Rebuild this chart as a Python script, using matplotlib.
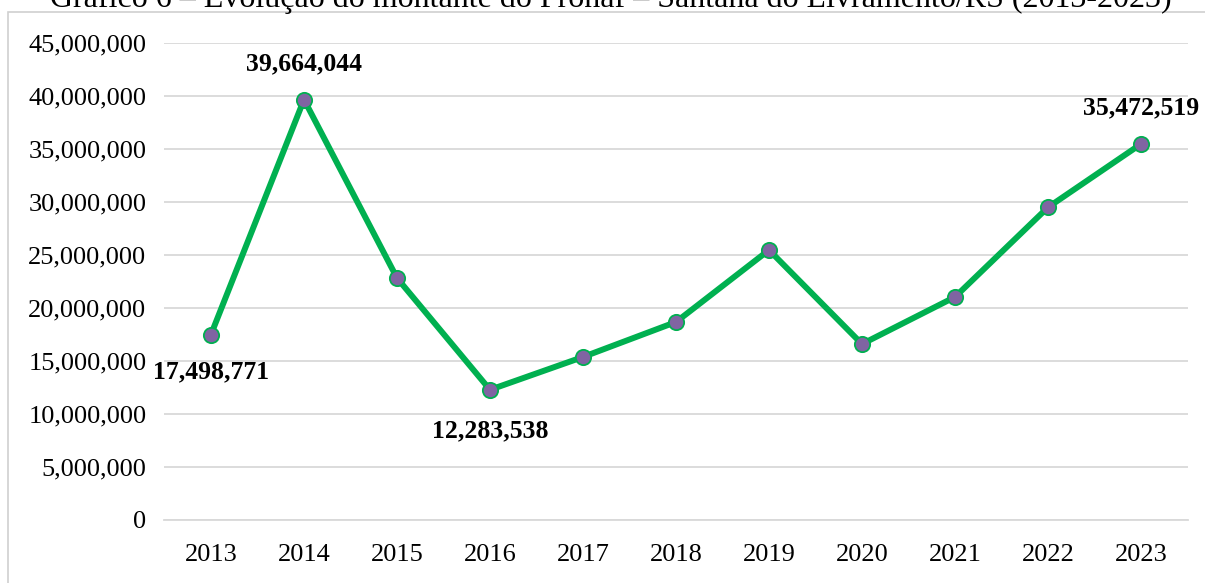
import matplotlib
matplotlib.use("Agg")
import matplotlib.pyplot as plt
from matplotlib.patches import Rectangle
from matplotlib.ticker import FuncFormatter

years = ["2013", "2014", "2015", "2016", "2017", "2018", "2019", "2020", "2021", "2022", "2023"]
values = [17498771, 39664044, 22830000, 12283538, 15380000, 18680000,
          25470000, 16600000, 21040000, 29500000, 35472519]
labeled = {0: ("17,498,771", -37), 1: ("39,664,044", 36),
           3: ("12,283,538", -41), 10: ("35,472,519", 36)}
yticks = list(range(0, 45000001, 5000000))
title = "Gráfico 6 – Evolução do montante do Pronaf – Santana do Livramento/RS (2013-2023)"

W, H = 1205, 583
fig = plt.figure(figsize=(W / 100, H / 100), dpi=100)
plt.rcParams['font.family'] = ['Liberation Serif', 'DejaVu Serif']

# outer frame
fig.patches.append(Rectangle((8 / W, -0.1), 1.2, 1 - 12 / H + 0.1, transform=fig.transFigure,
                             fill=False, edgecolor="#D0D0D0", linewidth=1.2))
fig.text(611 / W, 1 - 7 / H, title, ha="center", va="baseline", fontsize=23,
         family="Liberation Serif")

ax = fig.add_axes([164.5 / W, 1 - 520 / H, (1187.5 - 164.5) / W, (520 - 43) / H])
x = list(range(len(years)))
ax.plot(x, values, color="#00B050", linewidth=4.3, marker="o", markersize=11,
        markerfacecolor="#8064A2", markeredgecolor="#00B050", markeredgewidth=1.3,
        solid_capstyle="round", zorder=3)
ax.set_xlim(-0.5, len(years) - 0.5)
ax.set_ylim(0, 45000000)
ax.set_yticks(yticks)
ax.yaxis.set_major_formatter(FuncFormatter(lambda v, p: f"{int(v):,}"))
ax.set_xticks(x)
ax.set_xticklabels(years)
ax.grid(axis="y", color="#D9D9D9", linewidth=1.3)
ax.set_axisbelow(True)
for s in ["top", "right", "left"]:
    ax.spines[s].set_visible(False)
ax.spines["bottom"].set_color("#D9D9D9")
ax.spines["bottom"].set_linewidth(1.3)
ax.tick_params(axis="both", length=0, labelsize=19, colors="black")
ax.tick_params(axis="y", pad=13)
ax.tick_params(axis="x", pad=17)

for i, (txt, off) in labeled.items():
    ax.annotate(txt, (x[i], values[i]), xytext=(0, off), textcoords="offset pixels",
                ha="center", va="center", fontsize=18.5, fontweight="bold", color="black")

fig.savefig("out.png", dpi=100)
